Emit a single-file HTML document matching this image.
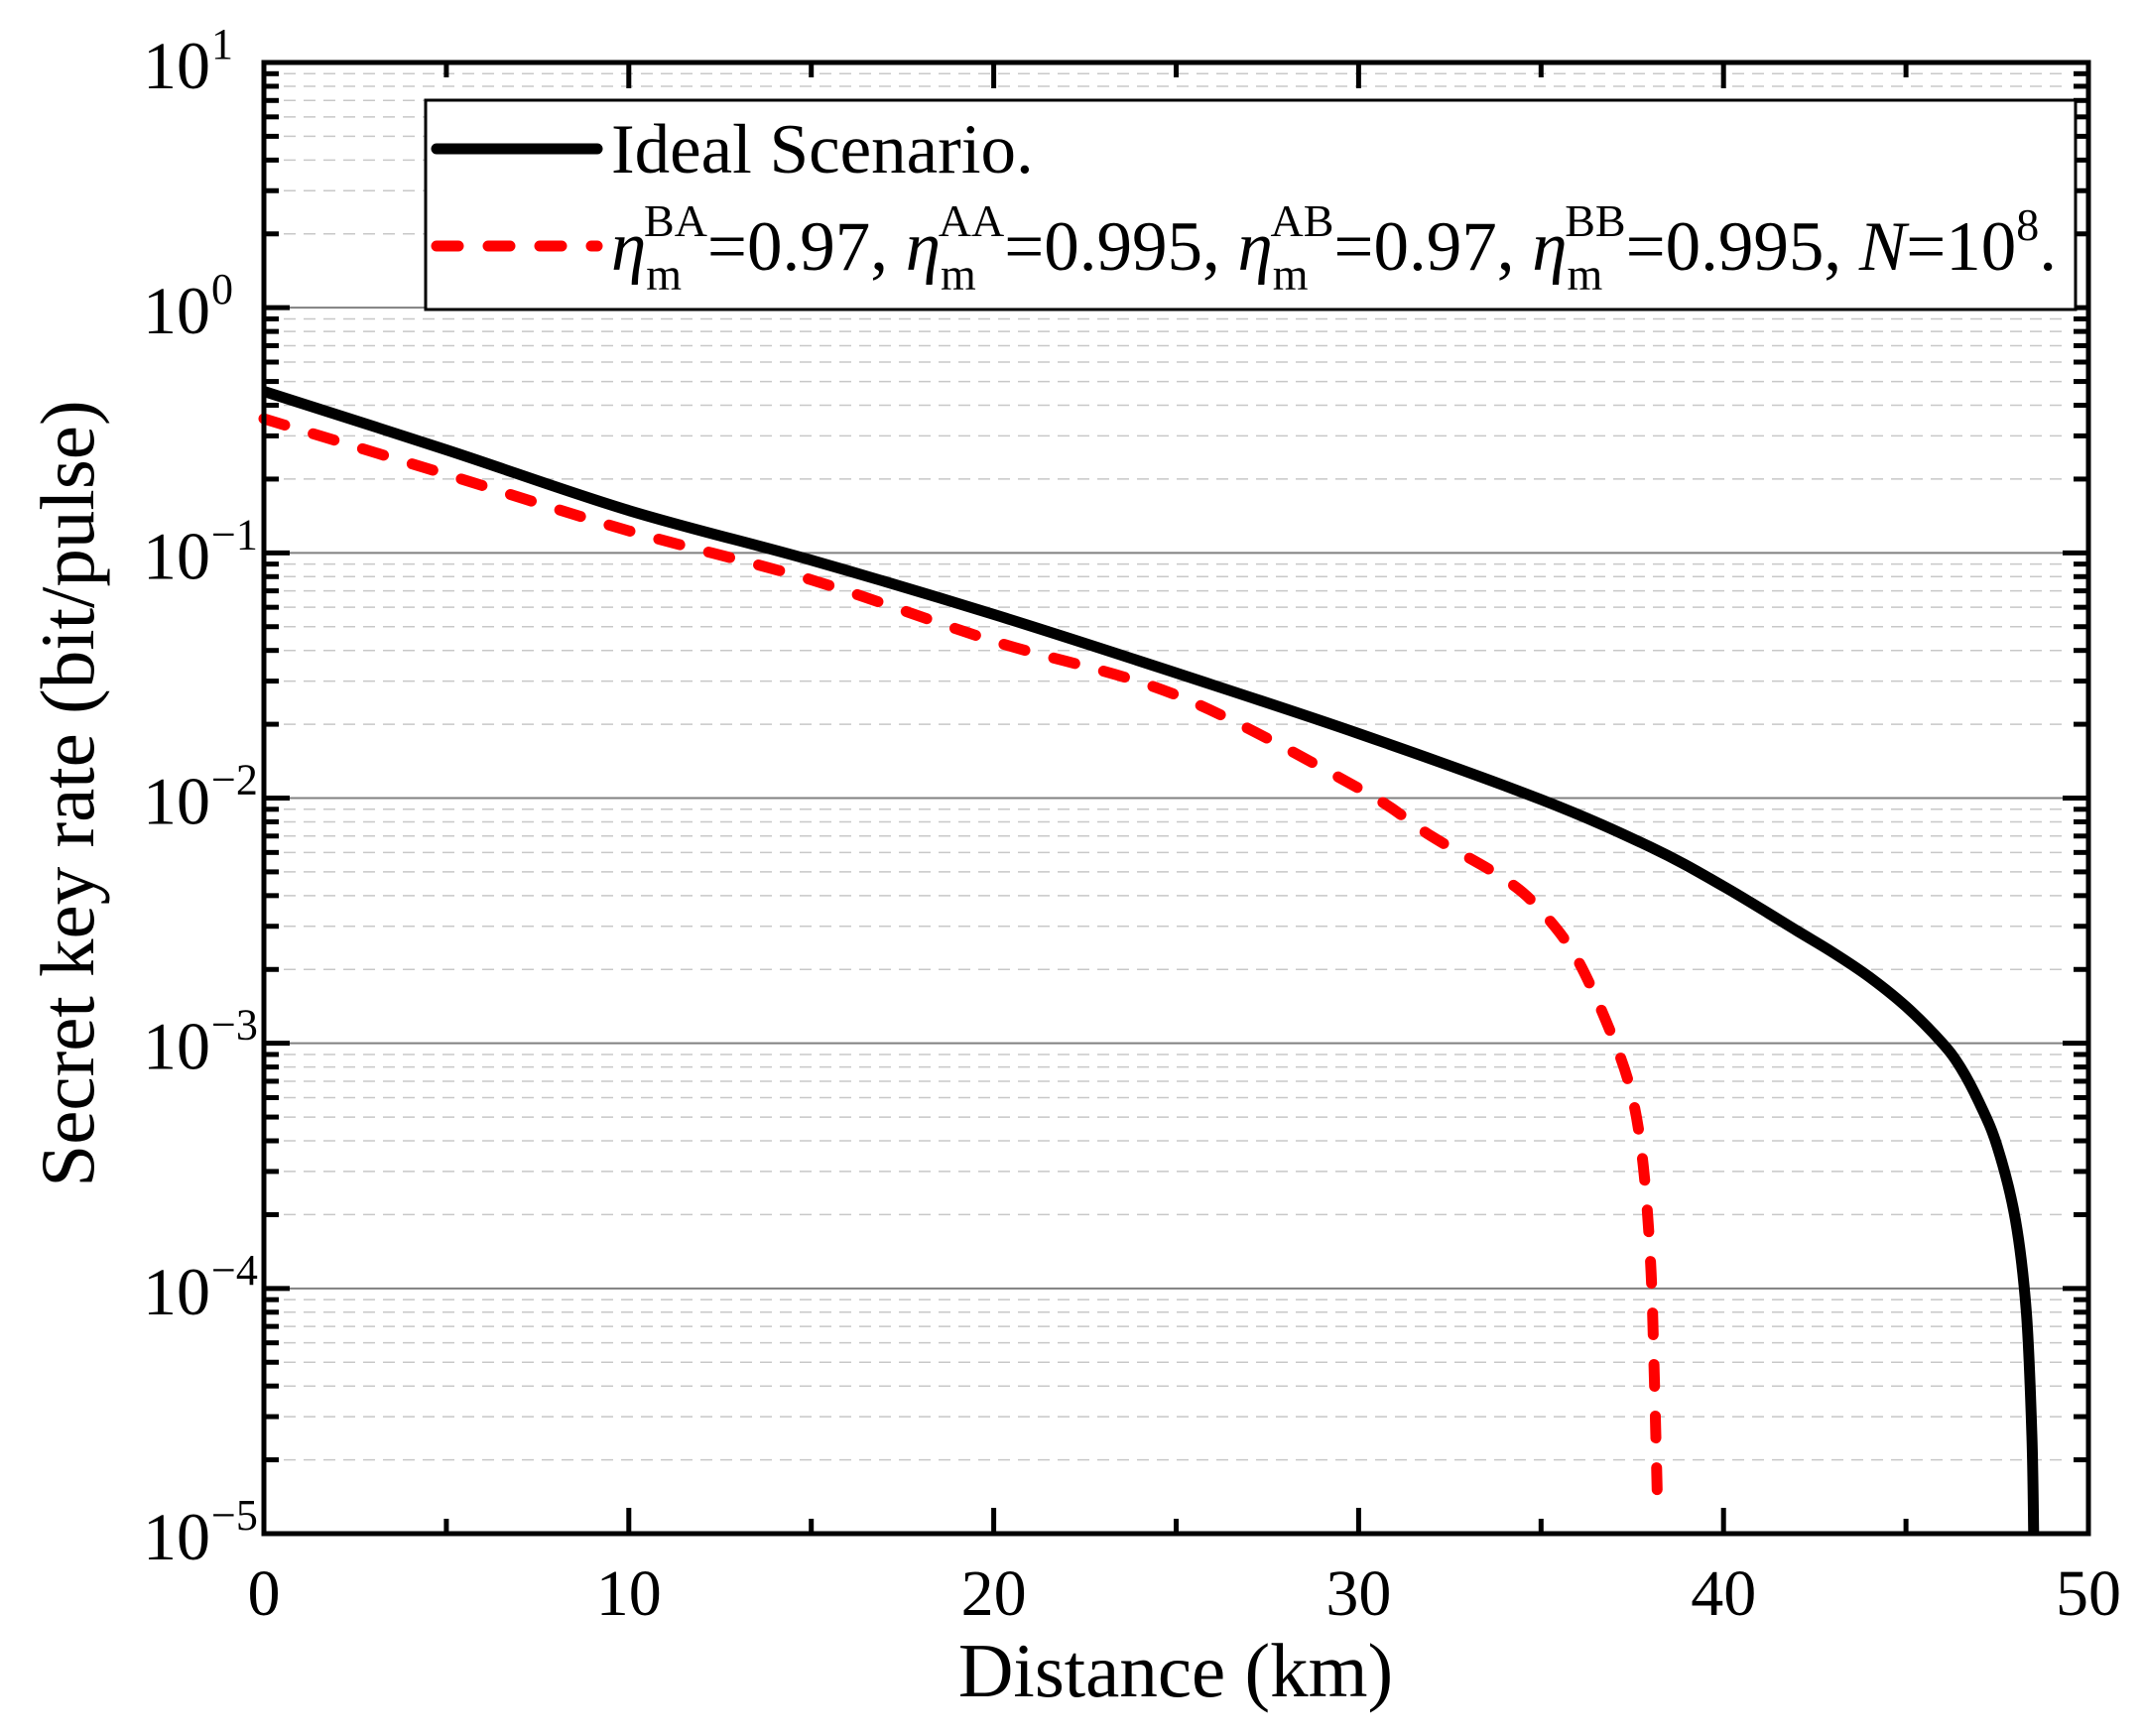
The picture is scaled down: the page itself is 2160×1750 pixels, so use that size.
<!DOCTYPE html>
<html><head><meta charset="utf-8"><style>
html,body{margin:0;padding:0;background:#fff;}
svg{display:block;font-family:"Liberation Serif",serif;}
</style></head><body>
<svg id="chart" width="2160" height="1750" viewBox="0 0 2160 1750" xmlns="http://www.w3.org/2000/svg">
<g id="grid"></g>
<g id="series"></g>
<g id="axes"></g>
<g id="legend">
  <rect x="429" y="101" width="1663" height="211" fill="#fff" stroke="#000" stroke-width="3"/>
  <line x1="440" y1="150" x2="602" y2="150" stroke="#000" stroke-width="11" stroke-linecap="round"/>
  <text x="616" y="174" font-size="71">Ideal Scenario.</text>
  <line x1="440" y1="248" x2="602" y2="248" stroke="#f00" stroke-width="11" stroke-linecap="round" stroke-dasharray="22 30"/>
  <text x="616" y="272" font-size="71"><tspan font-style="italic">η</tspan><tspan font-size="46" dy="20">m</tspan><tspan font-size="46" dx="-38" dy="-54">BA</tspan><tspan dy="34">=0.97, </tspan><tspan font-style="italic">η</tspan><tspan font-size="46" dy="20">m</tspan><tspan font-size="46" dx="-38" dy="-54">AA</tspan><tspan dy="34">=0.995, </tspan><tspan font-style="italic">η</tspan><tspan font-size="46" dy="20">m</tspan><tspan font-size="46" dx="-38" dy="-54">AB</tspan><tspan dy="34">=0.97, </tspan><tspan font-style="italic">η</tspan><tspan font-size="46" dy="20">m</tspan><tspan font-size="46" dx="-38" dy="-54">BB</tspan><tspan dy="34">=0.995, </tspan><tspan font-style="italic">N</tspan><tspan>=10</tspan><tspan font-size="46" dy="-30">8</tspan><tspan dy="30">.</tspan></text>
</g>
<text x="1185" y="1710" font-size="77" text-anchor="middle">Distance (km)</text>
<text transform="translate(94,800) rotate(-90)" font-size="77" text-anchor="middle">Secret key rate (bit/pulse)</text>
</svg>
<script>
// data
const idealX = [0,5,10,15,20,25,30,35,38,40,42,43,44,45,46,46.5,47,47.5,48,48.3,48.45,48.5];
const idealLogY = [-0.341,-0.58,-0.827,-1.03,-1.251,-1.49,-1.737,-2.006,-2.2,-2.36,-2.54,-2.63,-2.73,-2.85,-3.0,-3.1,-3.24,-3.42,-3.72,-4.1,-4.6,-5];
const practicalX = [0,5,10,15,20,25,30,32,34,35,36,37,37.5,37.8,38,38.1,38.2];
const practicalLogY = [-0.453,-0.68,-0.91,-1.11,-1.36,-1.58,-1.96,-2.156,-2.33,-2.46,-2.66,-2.99,-3.22,-3.5,-3.89,-4.34,-4.94];
const xTicks = [0,10,20,30,40,50];
const yDecades = [1,0,-1,-2,-3,-4,-5];

const L=266,R=2105,T=63,B=1546;
const NS='http://www.w3.org/2000/svg';
const xs = v => L + (v-0)/(50-0)*(R-L);
const ys = lg => T + (1-lg)/6*(B-T);
function mk(tag, attrs, parent){const e=document.createElementNS(NS,tag);for(const k in attrs)e.setAttribute(k,attrs[k]);parent.appendChild(e);return e;}
const grid=document.getElementById('grid'), axes=document.getElementById('axes'), series=document.getElementById('series');

yDecades.forEach(d=>{
  const y=ys(d);
  if(d<1 && d>-5){
    const g=mk('line',{x1:L,x2:R,y1:y,y2:y,stroke:'#808080','stroke-width':2},grid);
    
    
  }
  [[L,L+26],[R,R-26]].forEach(p=>{const t=mk('line',{x1:p[0],x2:p[1],y1:y,y2:y,stroke:'#000','stroke-width':5},axes);
    
    });
  const lab=mk('text',{x:212,y:y+26,'font-size':68,'text-anchor':'end'},axes);
  
  
  lab.textContent='10';
  const sup=mk('text',{x:213,y:y-4,'font-size':44},axes);
  
  
  sup.textContent = d<0 ? '\u2212'+(-d) : String(d);
  if(d>-5){
    for(let m=2;m<=9;m++){
      const yy=ys(d-1+Math.log10(m));
      const g=mk('line',{x1:L+20,x2:R-20,y1:yy,y2:yy,stroke:'#c8c8c8','stroke-width':1.5,'stroke-dasharray':'12 8'},grid);
      
      
      [[L,L+15],[R,R-15]].forEach(p=>{const t=mk('line',{x1:p[0],x2:p[1],y1:yy,y2:yy,stroke:'#000','stroke-width':5},axes);
        
        });
    }
  }
});
for(let v=0;v<=50;v+=5){
  const x=xs(v), major=v%10===0, len=major?26:15;
  [[B,B-len],[T,T+len]].forEach(p=>{const t=mk('line',{x1:x,x2:x,y1:p[0],y2:p[1],stroke:'#000','stroke-width':5},axes);
    
    });
}
xTicks.forEach(v=>{
  const t=mk('text',{x:xs(v),y:1628,'font-size':66,'text-anchor':'middle'},axes);
  
  
  t.textContent=String(v);
});
const frame=mk('rect',{x:L,y:T,width:R-L,height:B-T,fill:'none',stroke:'#000','stroke-width':5},axes);



function pathOf(xa,ya){
  const P=xa.map((x,i)=>[xs(x),ys(ya[i])]);
  let d='M'+P[0][0].toFixed(1)+' '+P[0][1].toFixed(1);
  for(let i=0;i<P.length-1;i++){
    const p0=P[Math.max(0,i-1)],p1=P[i],p2=P[i+1],p3=P[Math.min(P.length-1,i+2)];
    const c1=[p1[0]+(p2[0]-p0[0])/6,p1[1]+(p2[1]-p0[1])/6];
    const c2=[p2[0]-(p3[0]-p1[0])/6,p2[1]-(p3[1]-p1[1])/6];
    d+=' C'+c1[0].toFixed(1)+' '+c1[1].toFixed(1)+' '+c2[0].toFixed(1)+' '+c2[1].toFixed(1)+' '+p2[0].toFixed(1)+' '+p2[1].toFixed(1);
  }
  return d;
}
const p1=mk('path',{d:pathOf(idealX,idealLogY),fill:'none',stroke:'#000','stroke-width':11,'stroke-linejoin':'round'},series);


const p2=mk('path',{d:pathOf(practicalX,practicalLogY),fill:'none',stroke:'#f00','stroke-width':11,'stroke-linecap':'round','stroke-dasharray':'22 30'},series);


</script>
</body></html>
